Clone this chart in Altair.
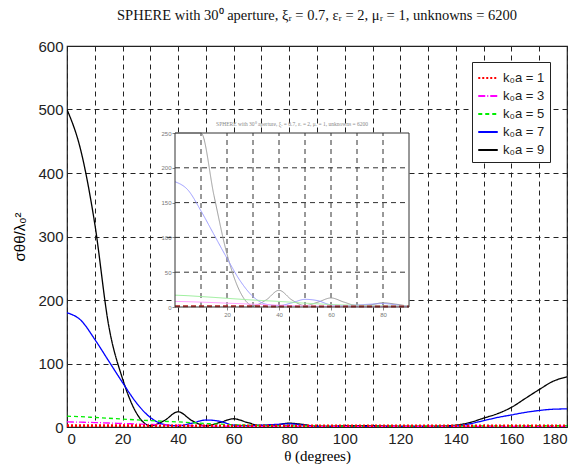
import altair as alt
import pandas as pd

theta = list(range(0, 181, 5))
ka1 = [1.2, 1.2, 1.1, 1.1, 1.0, 1.0, 0.9, 0.9, 0.8, 0.8, 0.8, 0.7, 0.7, 0.7, 0.7, 0.7, 0.7, 0.7, 0.7,
       0.7, 0.7, 0.7, 0.7, 0.7, 0.7, 0.7, 0.7, 0.7, 0.7, 0.7, 0.7, 0.7, 0.7, 0.7, 0.7, 0.7, 0.7]
ka3 = [8.0, 7.6, 7.0, 6.3, 5.5, 4.8, 4.0, 3.3, 2.6, 2.0, 1.6, 1.3, 1.1, 1.0, 1.0, 1.0, 1.0, 1.0, 1.0,
       1.0, 1.0, 1.0, 1.0, 1.0, 1.0, 1.0, 1.0, 1.0, 1.0, 1.0, 1.0, 1.0, 1.0, 1.0, 1.0, 1.0, 1.0]
ka5 = [17.0, 16.2, 15.0, 13.8, 12.5, 11.2, 10.0, 9.0, 8.0, 6.8, 5.5, 4.5, 3.5, 3.0, 2.5, 2.2, 2.0, 1.8, 1.6,
       1.5, 1.5, 1.5, 1.5, 1.5, 1.5, 1.5, 1.5, 1.5, 1.5, 1.5, 1.6, 1.7, 1.8, 1.9, 2.0, 2.0, 2.0]
ka7 = [180, 168, 138, 104, 70, 38, 15, 4, 2, 6, 11, 9, 3, 2, 3, 4, 5, 3, 1,
       1, 1, 1, 1, 1, 1, 1, 1, 1, 1.5, 5, 10, 15, 19, 23, 26, 28, 28.5]
ka9 = [500, 435, 320, 160, 76, 22, 2, 10, 24, 10, 2, 7, 13, 7, 2, 3, 6, 4, 1,
       1, 2, 2, 2, 1.5, 1, 1, 1, 1.5, 3, 7, 14, 21, 31, 45, 59, 72, 79]

labels = ["k₀a = 1", "k₀a = 3", "k₀a = 5", "k₀a = 7", "k₀a = 9"]
colors = ["#ff0000", "#ff00ff", "#00ee00", "#0000ff", "#000000"]
inset_colors = ["#b02020", "#ffa0ff", "#a0f0a0", "#9a9aff", "#9a9a9a"]
dashes = [[2, 2], [7, 2, 1, 2], [4, 3], [1, 0], [1, 0]]
inset_dashes = [[5, 3], [1, 0], [1, 0], [1, 0], [1, 0]]
inset_widths = [2.0, 1.0, 1.0, 1.0, 1.0]

series_vals = [ka9, ka7, ka5, ka3, ka1]
series_names = [labels[4], labels[3], labels[2], labels[1], labels[0]]

rows = []
for name, vals in zip(series_names, series_vals):
    for t, v in zip(theta, vals):
        rows.append({"theta": t, "value": v, "series": name})
df = pd.DataFrame(rows)

main_x_ticks = list(range(0, 181, 10))
main_y_ticks = list(range(0, 601, 100))
inset_x_grid = list(range(10, 81, 10))
inset_y_grid = list(range(50, 201, 50))
inset_x_labels = [20, 40, 60, 80]
inset_y_labels = [0, 50, 100, 150, 200, 250]

W, H = 500, 381
# inset placement (pixels inside plot area)
IX0, IX1 = 108, 342
IY0, IY1 = 261, 87

title_txt = "SPHERE with 30⁰ aperture,  ξᵣ = 0.7, εᵣ = 2, μᵣ = 1, unknowns = 6200"

leg = alt.Legend(title=None, orient="none", legendX=405, legendY=16,
                 fillColor="white", strokeColor="#222", padding=5,
                 symbolType="stroke", symbolSize=380, symbolStrokeWidth=1.8,
                 labelFont="Liberation Sans", labelFontSize=13,
                 labelColor="#222", rowPadding=0, cornerRadius=0, labelOffset=4)

color_enc = alt.Color("series:N", scale=alt.Scale(domain=labels, range=colors), legend=leg)
dash_enc = alt.StrokeDash("series:N", scale=alt.Scale(domain=labels, range=dashes), legend=leg)

x_main = alt.X("theta:Q", scale=alt.Scale(domain=[0, 180], nice=False),
               axis=alt.Axis(values=main_x_ticks,
                             labelExpr="datum.value % 20 == 0 ? datum.label : ''",
                             title="θ (degrees)", titleFont="Liberation Serif", titleFontSize=15,
                             titleFontWeight="normal", titlePadding=2,
                             labelFont="Liberation Sans", labelFontSize=15, labelColor="#222",
                             labelPadding=4, tickSize=0, domain=False,
                             grid=True, gridColor="#222", gridDash=[5, 4], gridWidth=1))
y_main = alt.Y("value:Q", scale=alt.Scale(domain=[0, 600], nice=False),
               axis=alt.Axis(values=main_y_ticks, title="σθθ/λ₀²",
                             titleFont="Liberation Sans", titleFontSize=15, titleFontWeight="normal",
                             titlePadding=10, labelFont="Liberation Sans", labelFontSize=15,
                             labelColor="#222", labelPadding=4, tickSize=0, domain=False,
                             grid=True, gridColor="#222", gridDash=[5, 4], gridWidth=1))

main = alt.Chart(df).mark_line(interpolate="monotone", clip=True, strokeWidth=1.3).encode(
    x=x_main, y=y_main, color=color_enc, strokeDash=dash_enc,
)

# thick dotted overlay for k0a = 1 (drawn on top, no legend channel)
red_main = alt.Chart(df).transform_filter(alt.datum.series == labels[0]).mark_line(
    interpolate="monotone", clip=True, color=colors[0], strokeDash=[2, 2], strokeWidth=4).encode(
    x=x_main, y=y_main)

ix = alt.Scale(domain=[0, 90], range=[IX0, IX1], nice=False)
iy = alt.Scale(domain=[0, 250], range=[IY0, IY1], nice=False, clamp=True)

frame_df = pd.DataFrame({"x0": [0], "x1": [90], "y0": [0], "y1": [250]})
inset_bg = alt.Chart(frame_df).mark_rect(fill="white", stroke=None).encode(
    x=alt.X("x0:Q", scale=ix, axis=alt.Axis(orient="bottom", offset=-(H - IY0), values=inset_x_labels,
                                              title=None, grid=False, domain=False, tickSize=3,
                                              labelFontSize=6, labelColor="#777", labelPadding=1)),
    x2="x1:Q",
    y=alt.Y("y0:Q", scale=iy, axis=alt.Axis(orient="left", offset=-IX0, values=inset_y_labels,
                                              title=None, grid=False, domain=False, tickSize=3,
                                              labelFontSize=6, labelColor="#777", labelPadding=1)),
    y2="y1:Q",
)

vg = pd.DataFrame({"gx": inset_x_grid})
inset_vgrid = alt.Chart(vg).mark_rule(color="#333", strokeDash=[5, 4], strokeWidth=1).encode(
    x=alt.X("gx:Q", scale=ix), y=alt.datum(0), y2=alt.datum(250))
hg = pd.DataFrame({"gy": inset_y_grid})
inset_hgrid = alt.Chart(hg).mark_rule(color="#333", strokeDash=[5, 4], strokeWidth=1).encode(
    y=alt.Y("gy:Q", scale=iy), x=alt.datum(0), x2=alt.datum(90))

inset_series_layers = []
for lab, col, dsh, wd in reversed(list(zip(labels, inset_colors, inset_dashes, inset_widths))):
    inset_series_layers.append(
        alt.Chart(df).transform_filter(
            (alt.datum.theta <= 90) & (alt.datum.series == lab)
        ).mark_line(interpolate="monotone", color=col, strokeDash=dsh, strokeWidth=wd).encode(
            x=alt.X("theta:Q", scale=ix),
            y=alt.Y("value:Q", scale=iy),
        )
    )

inset_frame = alt.Chart(frame_df).mark_rect(fill=None, stroke="#333", strokeWidth=1).encode(
    x=alt.X("x0:Q", scale=ix), x2="x1:Q", y=alt.Y("y0:Q", scale=iy), y2="y1:Q")

inset_title = alt.Chart(frame_df).mark_text(fontSize=5.5, color="#888", font="Liberation Serif",
                                            dy=-9).encode(
    x=alt.datum(45), y=alt.datum(250), text=alt.value(title_txt))

main_all = alt.layer(main, red_main)
inset = alt.layer(inset_bg, inset_vgrid, inset_hgrid, *inset_series_layers, inset_frame, inset_title)

chart = alt.layer(main_all, inset).resolve_scale(x="independent", y="independent").properties(
    width=W, height=H,
    title=alt.TitleParams(title_txt, font="Liberation Serif", fontSize=14.5, fontWeight="normal",
                          anchor="middle", offset=16, color="#111"),
    autosize=alt.AutoSizeParams(type="none"),
    padding={"left": 67, "top": 46, "right": 15, "bottom": 41},
    background="white",
).configure_view(stroke="#222", strokeWidth=1.2)

chart.save("out.html", embed_options={"renderer": "svg", "actions": False})
